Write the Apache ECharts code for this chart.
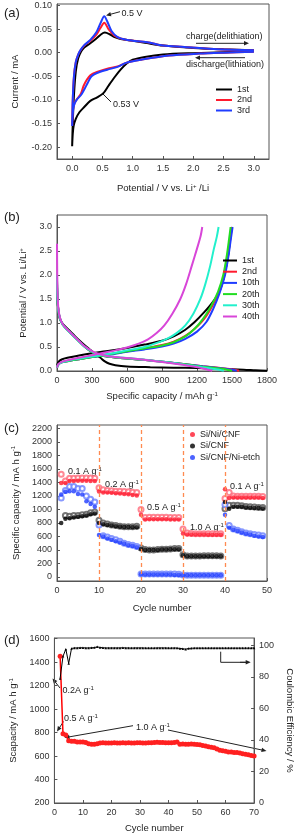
<!DOCTYPE html>
<html><head><meta charset="utf-8">
<script src="https://cdn.jsdelivr.net/npm/echarts@6/dist/echarts.min.js"></script>
<style>html,body{margin:0;padding:0;background:#fff}#c{width:303px;height:834px}</style>
</head><body><div id="c"></div>
<script>
// ---------- Panel (a): cyclic voltammetry ----------
const cv1st = [[3.0,0.003],[2.5,0.001],[2.0,-0.001],[1.5,-0.004],[1.2,-0.009],[1.0,-0.015],[0.9,-0.023],[0.8,-0.036],[0.7,-0.052],[0.6,-0.07],[0.52,-0.085],[0.42,-0.094],[0.3,-0.102],[0.2,-0.115],[0.12,-0.126],[0.06,-0.14],[0.025,-0.155],[0.01,-0.172],[0.0,-0.198],
  [0.01,-0.15],[0.03,-0.09],[0.06,-0.04],[0.1,-0.012],[0.15,0.003],[0.2,0.011],[0.3,0.02],[0.4,0.03],[0.48,0.039],[0.54,0.0425],[0.62,0.039],[0.7,0.033],[0.8,0.029],[1.0,0.025],[1.2,0.021],[1.5,0.015],[2.0,0.01],[2.5,0.007],[3.0,0.005]];
const cv2nd = [[3.0,0.002],[2.5,0.0],[2.1,-0.002],[1.6,-0.006],[1.13,-0.015],[0.9,-0.021],[0.75,-0.029],[0.58,-0.034],[0.41,-0.041],[0.3,-0.048],[0.24,-0.058],[0.19,-0.07],[0.14,-0.088],[0.08,-0.098],[0.04,-0.107],[0.015,-0.12],[0.0,-0.155],
  [0.01,-0.1],[0.03,-0.05],[0.06,-0.02],[0.1,-0.004],[0.14,0.005],[0.2,0.015],[0.3,0.025],[0.4,0.038],[0.47,0.053],[0.53,0.0635],[0.6,0.05],[0.7,0.036],[0.8,0.03],[0.91,0.027],[1.24,0.022],[1.5,0.015],[1.85,0.012],[2.4,0.007],[3.0,0.005]];
const cv3rd = [[3.0,0.002],[2.5,0.0],[2.1,-0.002],[1.6,-0.006],[1.13,-0.015],[0.9,-0.021],[0.75,-0.03],[0.58,-0.036],[0.41,-0.043],[0.32,-0.05],[0.26,-0.063],[0.2,-0.078],[0.15,-0.089],[0.08,-0.099],[0.04,-0.108],[0.015,-0.122],[0.0,-0.155],
  [0.01,-0.1],[0.03,-0.05],[0.06,-0.02],[0.1,-0.004],[0.14,0.006],[0.2,0.016],[0.3,0.027],[0.4,0.043],[0.47,0.063],[0.53,0.077],[0.58,0.066],[0.65,0.046],[0.75,0.033],[0.91,0.027],[1.24,0.022],[1.5,0.015],[1.85,0.012],[2.4,0.007],[3.0,0.005]];
const aXTicks = [0,0.5,1.0,1.5,2.0,2.5,3.0];
const aYTicks = [-0.20,-0.15,-0.10,-0.05,0.00,0.05,0.10];

// ---------- Panel (b): galvanostatic profiles ----------
const b1stDis = [[0,1.75],[4,1.5],[12,1.25],[25,1.08],[50,0.98],[90,0.88],[140,0.76],[190,0.64],[240,0.53],[290,0.43],[330,0.35],[370,0.28],[410,0.2],[450,0.15],[500,0.12],[600,0.095],[800,0.08],[1000,0.07],[1200,0.06],[1400,0.045],[1600,0.028],[1700,0.015],[1800,0.004]];
const b1stChg = [[0,0.1],[10,0.18],[40,0.24],[100,0.28],[200,0.33],[300,0.37],[450,0.42],[600,0.48],[750,0.55],[900,0.63],[1000,0.72],[1100,0.86],[1180,1.02],[1260,1.22],[1330,1.42],[1390,1.65],[1430,1.95],[1460,2.3],[1480,2.65],[1495,3.0]];
const b2ndDis = [[0,1.9],[3,1.6],[10,1.3],[25,1.1],[50,0.97],[90,0.86],[140,0.74],[190,0.62],[240,0.5],[290,0.41],[340,0.35],[400,0.31],[500,0.28],[650,0.25],[800,0.22],[950,0.18],[1100,0.14],[1250,0.1],[1400,0.065],[1500,0.035],[1560,0.005]];
const b2ndChg = [[0,0.07],[10,0.13],[40,0.18],[100,0.21],[200,0.25],[300,0.29],[450,0.35],[600,0.41],[750,0.47],[900,0.54],[1000,0.61],[1100,0.73],[1180,0.88],[1260,1.08],[1330,1.35],[1390,1.65],[1435,2.0],[1465,2.4],[1485,2.75],[1500,3.0]];
const b10thDis = [[0,1.85],[3,1.6],[10,1.3],[25,1.1],[50,0.97],[90,0.86],[140,0.74],[190,0.62],[240,0.5],[290,0.41],[340,0.35],[400,0.31],[500,0.28],[650,0.25],[800,0.22],[950,0.18],[1100,0.14],[1250,0.1],[1400,0.06],[1500,0.03],[1540,0.005]];
const b10thChg = [[0,0.07],[10,0.13],[40,0.18],[100,0.21],[200,0.25],[300,0.29],[450,0.34],[600,0.4],[750,0.45],[900,0.51],[1000,0.57],[1100,0.67],[1200,0.82],[1280,1.02],[1340,1.3],[1390,1.6],[1440,2.0],[1470,2.4],[1490,2.75],[1505,3.0]];
const b20thDis = [[0,1.9],[3,1.6],[10,1.3],[25,1.1],[50,0.96],[90,0.85],[140,0.73],[190,0.61],[240,0.5],[290,0.41],[340,0.35],[400,0.31],[500,0.28],[650,0.25],[800,0.22],[950,0.18],[1100,0.14],[1250,0.09],[1400,0.05],[1500,0.005]];
const b20thChg = [[0,0.07],[10,0.13],[40,0.18],[100,0.21],[200,0.25],[300,0.29],[450,0.35],[600,0.41],[750,0.47],[900,0.53],[1000,0.6],[1100,0.72],[1180,0.88],[1250,1.08],[1320,1.35],[1380,1.65],[1425,2.0],[1455,2.4],[1475,2.75],[1488,3.0]];
const b30thDis = [[0,2.0],[3,1.6],[10,1.3],[25,1.1],[50,0.96],[90,0.85],[140,0.73],[190,0.61],[240,0.5],[290,0.42],[340,0.36],[400,0.32],[500,0.29],[650,0.26],[800,0.22],[950,0.18],[1100,0.13],[1250,0.08],[1380,0.03],[1430,0.005]];
const b30thChg = [[0,0.07],[10,0.13],[40,0.18],[100,0.22],[200,0.26],[300,0.3],[450,0.36],[600,0.43],[750,0.5],[850,0.58],[950,0.68],[1025,0.79],[1100,0.95],[1170,1.2],[1227,1.49],[1270,1.8],[1313,2.19],[1345,2.55],[1370,2.8],[1385,3.0]];
const b40thDis = [[0,2.65],[2,2.0],[5,1.6],[12,1.3],[27,1.1],[50,0.97],[90,0.86],[140,0.74],[190,0.62],[240,0.51],[290,0.43],[340,0.37],[400,0.33],[500,0.29],[650,0.26],[800,0.22],[950,0.17],[1100,0.12],[1220,0.07],[1300,0.02],[1330,0.005]];
const b40thChg = [[0,0.07],[10,0.14],[40,0.19],[100,0.23],[200,0.28],[300,0.33],[400,0.38],[500,0.43],[600,0.49],[700,0.57],[780,0.66],[854,0.79],[920,0.95],[990,1.2],[1055,1.49],[1105,1.8],[1155,2.19],[1200,2.55],[1230,2.8],[1245,3.0]];
const bXTicks = [0,300,600,900,1200,1500,1800];
const bYTicks = [0,0.5,1.0,1.5,2.0,2.5,3.0];

// ---------- Panel (c): rate capability ----------
const cycles49 = Array.from({length:49},(_,i)=>i+1);
const siNiCnfDis = [1390,1390,1420,1420,1425,1425,1425,1420,1420, 1265,1250,1250,1245,1240,1235,1230,1225,1215,1205, 920,850,855,855,855,855,855,850,850,850, 645,630,630,630,630,630,625,625,625,625, 1300,1170,1175,1175,1175,1175,1175,1175,1175,1170];
const siNiCnfChg = [1520,1420,1460,1460,1465,1465,1465,1465,1460, 1320,1290,1280,1275,1270,1270,1265,1260,1255,1250, 1000,880,885,885,885,885,885,880,880,880, 710,650,645,640,640,640,640,640,640,640, 1160,1250,1200,1195,1195,1195,1195,1195,1195,1190];
const siCnfDis = [800,860,870,880,890,900,910,930,940, 800,780,770,760,750,745,740,740,735,735, 415,400,400,400,400,405,405,410,410,410, 320,305,305,305,305,305,305,305,305,305, 1110,1010,1040,1040,1040,1030,1025,1020,1020,1015];
const siCnfChg = [null,910,900,910,910,920,930,950,960, 840,800,785,770,760,750,745,745,745,750, 430,405,400,400,405,410,410,415,420,420, 330,310,310,310,310,315,315,315,315,310, 1010,1060,1060,1060,1055,1045,1040,1035,1030,1030];
const siCnfNiDis = [1220,1260,1270,1270,1230,1220,1120,1080,1040, 620,600,570,550,530,510,490,470,460,440, 40,35,35,35,35,35,35,35,30,30, 25,25,25,25,25,25,25,25,25,25, 920,730,700,680,660,640,630,610,600,590];
const siCnfNiChg = [1170,1280,1340,1340,1310,1310,1200,1150,1110, 770,610,590,570,550,530,500,480,470,450, 45,42,42,42,42,42,42,42,42,40, 28,26,26,26,26,26,26,26,26,26, 1070,760,710,690,670,650,640,630,620,610];
const rateSteps = [10,20,30,40];
const cXTicks = [0,10,20,30,40,50];
const cYTicks = [0,200,400,600,800,1000,1200,1400,1600,1800,2000,2200];

// ---------- Panel (d): long cycling ----------
const cyclesD = Array.from({length:69},(_,i)=>i+2);
const capD = [1450,790,780,730,725,725,720,720,720,715,705,700,700,705,710,712,710,710,710,712,710,710,712,710,712,710,710,712,712,710,710,712,714,716,718,716,716,714,712,714,716,720,700,702,700,700,702,700,698,695,690,685,680,675,670,660,650,645,640,635,635,630,630,625,620,615,610,605,600];
const ceD = [79,93,97.5,88.5,98,98.3,98.3,98.4,98.4,98.3,98.3,98.4,98.5,99,98.6,98.4,98.3,98.3,98.3,98.3,98.3,98.3,98.4,98.3,98.3,98.2,98.3,98.3,98.3,98.3,98.2,98.2,98.2,98.2,98.3,98.3,98.3,98.3,98.2,98.2,98.3,98.2,98.0,97.8,97.5,98.0,98.1,98.2,98.2,98.2,98.2,98.2,98.2,98.2,98.2,98.2,98.2,98.2,98.2,98.2,98.2,98.2,98.2,98.2,98.2,98.2,98.2,98.2,98.3];
const dXTicks = [0,10,20,30,40,50,60,70];
const dYTicks = [200,400,600,800,1000,1200,1400,1600];
const dY2Ticks = [0,20,40,60,80,100];

const FONT = 'Liberation Sans, Arial, sans-serif';
const AX = '#555';
const sup = {sup:{fontSize:6, verticalAlign:'top', fontFamily:FONT, color:'#222', padding:[0,0,5,0]}};

function valAxis(gi, min, max, ticks, fmt, name, nameGap, extra){
  return Object.assign({
    type:'value', gridIndex:gi, min:min, max:max,
    axisLine:{show:true, onZero:false, lineStyle:{color:AX, width:1}},
    axisTick:{show:true, inside:true, length:3, customValues:ticks, lineStyle:{color:AX}},
    axisLabel:{customValues:ticks, formatter:fmt, fontSize:9, fontFamily:FONT, color:'#333', margin:5},
    splitLine:{show:false},
    name:name, nameLocation:'middle', nameGap:nameGap,
    nameTextStyle:{fontSize:9.5, fontFamily:FONT, color:'#222', rich:sup}
  }, extra||{});
}
function zipc(xs, ys){ return xs.map((x,i)=> ys[i]==null ? [x,null] : [x, ys[i]]); }

function lineS(name, data, color, xi, yi, w){
  return {type:'line', name:name, data:data, xAxisIndex:xi, yAxisIndex:yi, showSymbol:false, smooth:0.3,
    lineStyle:{color:color, width:w||2}, itemStyle:{color:color}, animation:false, z:3};
}
function dotS(name, xs, ys, color, open, xi, yi){
  return {type:'scatter', name:name, data:zipc(xs,ys), xAxisIndex:xi, yAxisIndex:yi,
    symbol: open?'emptyCircle':'circle', symbolSize: open?5:4.5,
    itemStyle: open?{color:color, borderColor:color, borderWidth:1}:{color:color},
    animation:false, z: open?2:3};
}
function arrow(x1,y1,x2,y2){
  const a=Math.atan2(y2-y1,x2-x1), L=5, W=2.2, c=Math.cos(a), s=Math.sin(a);
  return [
    {type:'line', shape:{x1:x1,y1:y1,x2:x2-c*3,y2:y2-s*3}, style:{stroke:'#222', lineWidth:1}},
    {type:'polygon', shape:{points:[[x2,y2],[x2-L*c+W*s,y2-L*s-W*c],[x2-L*c-W*s,y2-L*s+W*c]]}, style:{fill:'#222'}}
  ];
}
function txt(x,y,text,size,extra){
  return Object.assign({type:'text', x:x, y:y, style:{text:text, fontSize:size||9, fontFamily:FONT, fill:'#222', verticalAlign:'middle',
     rich:{sup:{fontSize:6, fontFamily:FONT, fill:'#222', verticalAlign:'top', padding:[0,0,5,0]}}}}, extra||{});
}

const series = [
  lineS('1st', cv1st, '#000000', 0, 0),
  lineS('2nd', cv2nd, '#ff1a2e', 0, 0),
  lineS('3rd', cv3rd, '#1f3cff', 0, 0),

  lineS('1st', b1stDis, '#000000', 1, 1), lineS('1st', b1stChg, '#000000', 1, 1),
  lineS('2nd', b2ndDis, '#ff1a2e', 1, 1), lineS('2nd', b2ndChg, '#ff1a2e', 1, 1),
  lineS('10th', b10thDis, '#1f3cff', 1, 1), lineS('10th', b10thChg, '#1f3cff', 1, 1),
  lineS('20th', b20thDis, '#22dd22', 1, 1), lineS('20th', b20thChg, '#22dd22', 1, 1),
  lineS('30th', b30thDis, '#22f0cc', 1, 1), lineS('30th', b30thChg, '#22f0cc', 1, 1),
  lineS('40th', b40thDis, '#d846d8', 1, 1), lineS('40th', b40thChg, '#d846d8', 1, 1),

  dotS('Si/Ni/CNF (open)', cycles49, siNiCnfChg, '#ff6a7a', true, 2, 2),
  dotS('Si/CNF (open)', cycles49, siCnfChg, '#555555', true, 2, 2),
  dotS('Si/CNF/Ni-etch (open)', cycles49, siCnfNiChg, '#6a80ff', true, 2, 2),
  dotS('Si/Ni/CNF', cycles49, siNiCnfDis, '#ff1a2e', false, 2, 2),
  dotS('Si/CNF', cycles49, siCnfDis, '#000000', false, 2, 2),
  dotS('Si/CNF/Ni-etch', cycles49, siCnfNiDis, '#1f3cff', false, 2, 2),
  {type:'line', name:'rate steps', data:[], xAxisIndex:2, yAxisIndex:2, animation:false,
   markLine:{silent:true, symbol:['none','none'], label:{show:false},
     lineStyle:{color:'#ff8a50', type:[4,3], width:1.3},
     data: rateSteps.map(v=>({xAxis:v}))}},

  {type:'line', name:'Capacity', data:zipc(cyclesD, capD), xAxisIndex:3, yAxisIndex:3, symbol:'circle', symbolSize:5, showSymbol:true,
   lineStyle:{color:'#ff0000', width:1.5}, itemStyle:{color:'#ff2020'}, animation:false, z:3},
  {type:'line', name:'CE', data:zipc(cyclesD, ceD), xAxisIndex:3, yAxisIndex:4, symbol:'triangle', symbolSize:2.5, showSymbol:true,
   lineStyle:{color:'#000', width:1}, itemStyle:{color:'#000'}, animation:false, z:3}
];

const graphic = [
  txt(4,13,'(a)',13), txt(4,217,'(b)',13), txt(4,428,'(c)',13), txt(4,640,'(d)',13),
  ...arrow(120,11.7,106,15.5), txt(121.5,13.5,'0.5 V',9),
  {type:'line', shape:{x1:111,y1:102,x2:103,y2:94}, style:{stroke:'#222', lineWidth:1}},
  txt(113,105,'0.53 V',9),
  txt(186,37,'charge(delithiation)',9), ...arrow(196,43.3,249,43.3),
  txt(186,64.3,'discharge(lithiation)',9), ...arrow(245,57.7,195,57.7),
  txt(68,472,'0.1 A g{sup|-1}',9), txt(105,484.5,'0.2 A g{sup|-1}',9), txt(147,508,'0.5 A g{sup|-1}',9),
  txt(190,528,'1.0 A g{sup|-1}',9), txt(230,487,'0.1 A g{sup|-1}',9),
  ...arrow(60,688,52.5,678.5), txt(62.5,691,'0.2A g{sup|-1}',9),
  ...arrow(63.5,721.5,57,731.5), txt(64,719,'0.5 A g{sup|-1}',9),
  txt(136,727.7,'1.0 A g{sup|-1}',9),
  ...arrow(133,725.7,64.5,737.7), ...arrow(168,730,266.5,751),
  {type:'polyline', shape:{points:[[220.7,651.7],[220.7,662.3],[246,662.3]]}, style:{stroke:'#222', fill:null, lineWidth:1}},
  ...arrow(240,662.3,250.7,662.3)
];

const legendText = {fontSize:9, fontFamily:FONT, color:'#222'};
const option = {
  animation:false,
  grid:[
    {left:57, top:4, width:212, height:155, show:true, borderColor:AX, borderWidth:1, containLabel:false},
    {left:57, top:215, width:210, height:156, show:true, borderColor:AX, borderWidth:1, containLabel:false},
    {left:57, top:425, width:210, height:156, show:true, borderColor:AX, borderWidth:1, containLabel:false},
    {left:46, top:638, width:223, height:165, show:true, borderColor:AX, borderWidth:1, containLabel:false}
  ],
  xAxis:[
    valAxis(0, -0.25, 3.25, aXTicks, v=>v.toFixed(1), 'Potential / V vs. Li{sup|+} /Li', 24),
    valAxis(1, 0, 1800, bXTicks, v=>String(v), 'Specific capacity / mAh g{sup|-1}', 20),
    valAxis(2, 0, 50, cXTicks, v=>String(v), 'Cycle number', 22),
    valAxis(3, 0, 70, dXTicks, v=>String(v), 'Cycle number', 20)
  ],
  yAxis:[
    valAxis(0, -0.225, 0.103, aYTicks, v=>v.toFixed(2), 'Current / mA', 30),
    valAxis(1, 0, 3.25, bYTicks, v=>v.toFixed(1), 'Potential / V vs. Li/Li{sup|+}', 17),
    valAxis(2, -60, 2250, cYTicks, v=>String(v), 'Specific capacity / mA h g{sup|-1}', 23),
    valAxis(3, 200, 1605, dYTicks, v=>String(v), 'Scapacity / mA h g{sup|-1}', 30),
    valAxis(3, 0, 104.6, dY2Ticks, v=>String(v), 'Coulombic Efficiency / %', 25, {position:'right', nameRotate:-90})
  ],
  legend:[
    {data:['1st','2nd','3rd'], left:216, top:85, orient:'vertical', icon:'rect', itemWidth:16, itemHeight:2, itemGap:1.5, padding:0, textStyle:legendText, selectedMode:false},
    {data:['1st','2nd','10th','20th','30th','40th'], left:223, top:256, orient:'vertical', icon:'rect', itemWidth:14, itemHeight:2, itemGap:2.2, padding:0, textStyle:legendText, selectedMode:false},
    {data:['Si/Ni/CNF','Si/CNF','Si/CNF/Ni-etch'], left:190, top:430, orient:'vertical', icon:'circle', itemWidth:5, itemHeight:5, itemGap:2.5, padding:0, textStyle:legendText, selectedMode:false}
  ],
  graphic: graphic,
  series: series
};
const chart = echarts.init(document.getElementById('c'), null, {renderer:'canvas'});
chart.setOption(option);
</script></body></html>
